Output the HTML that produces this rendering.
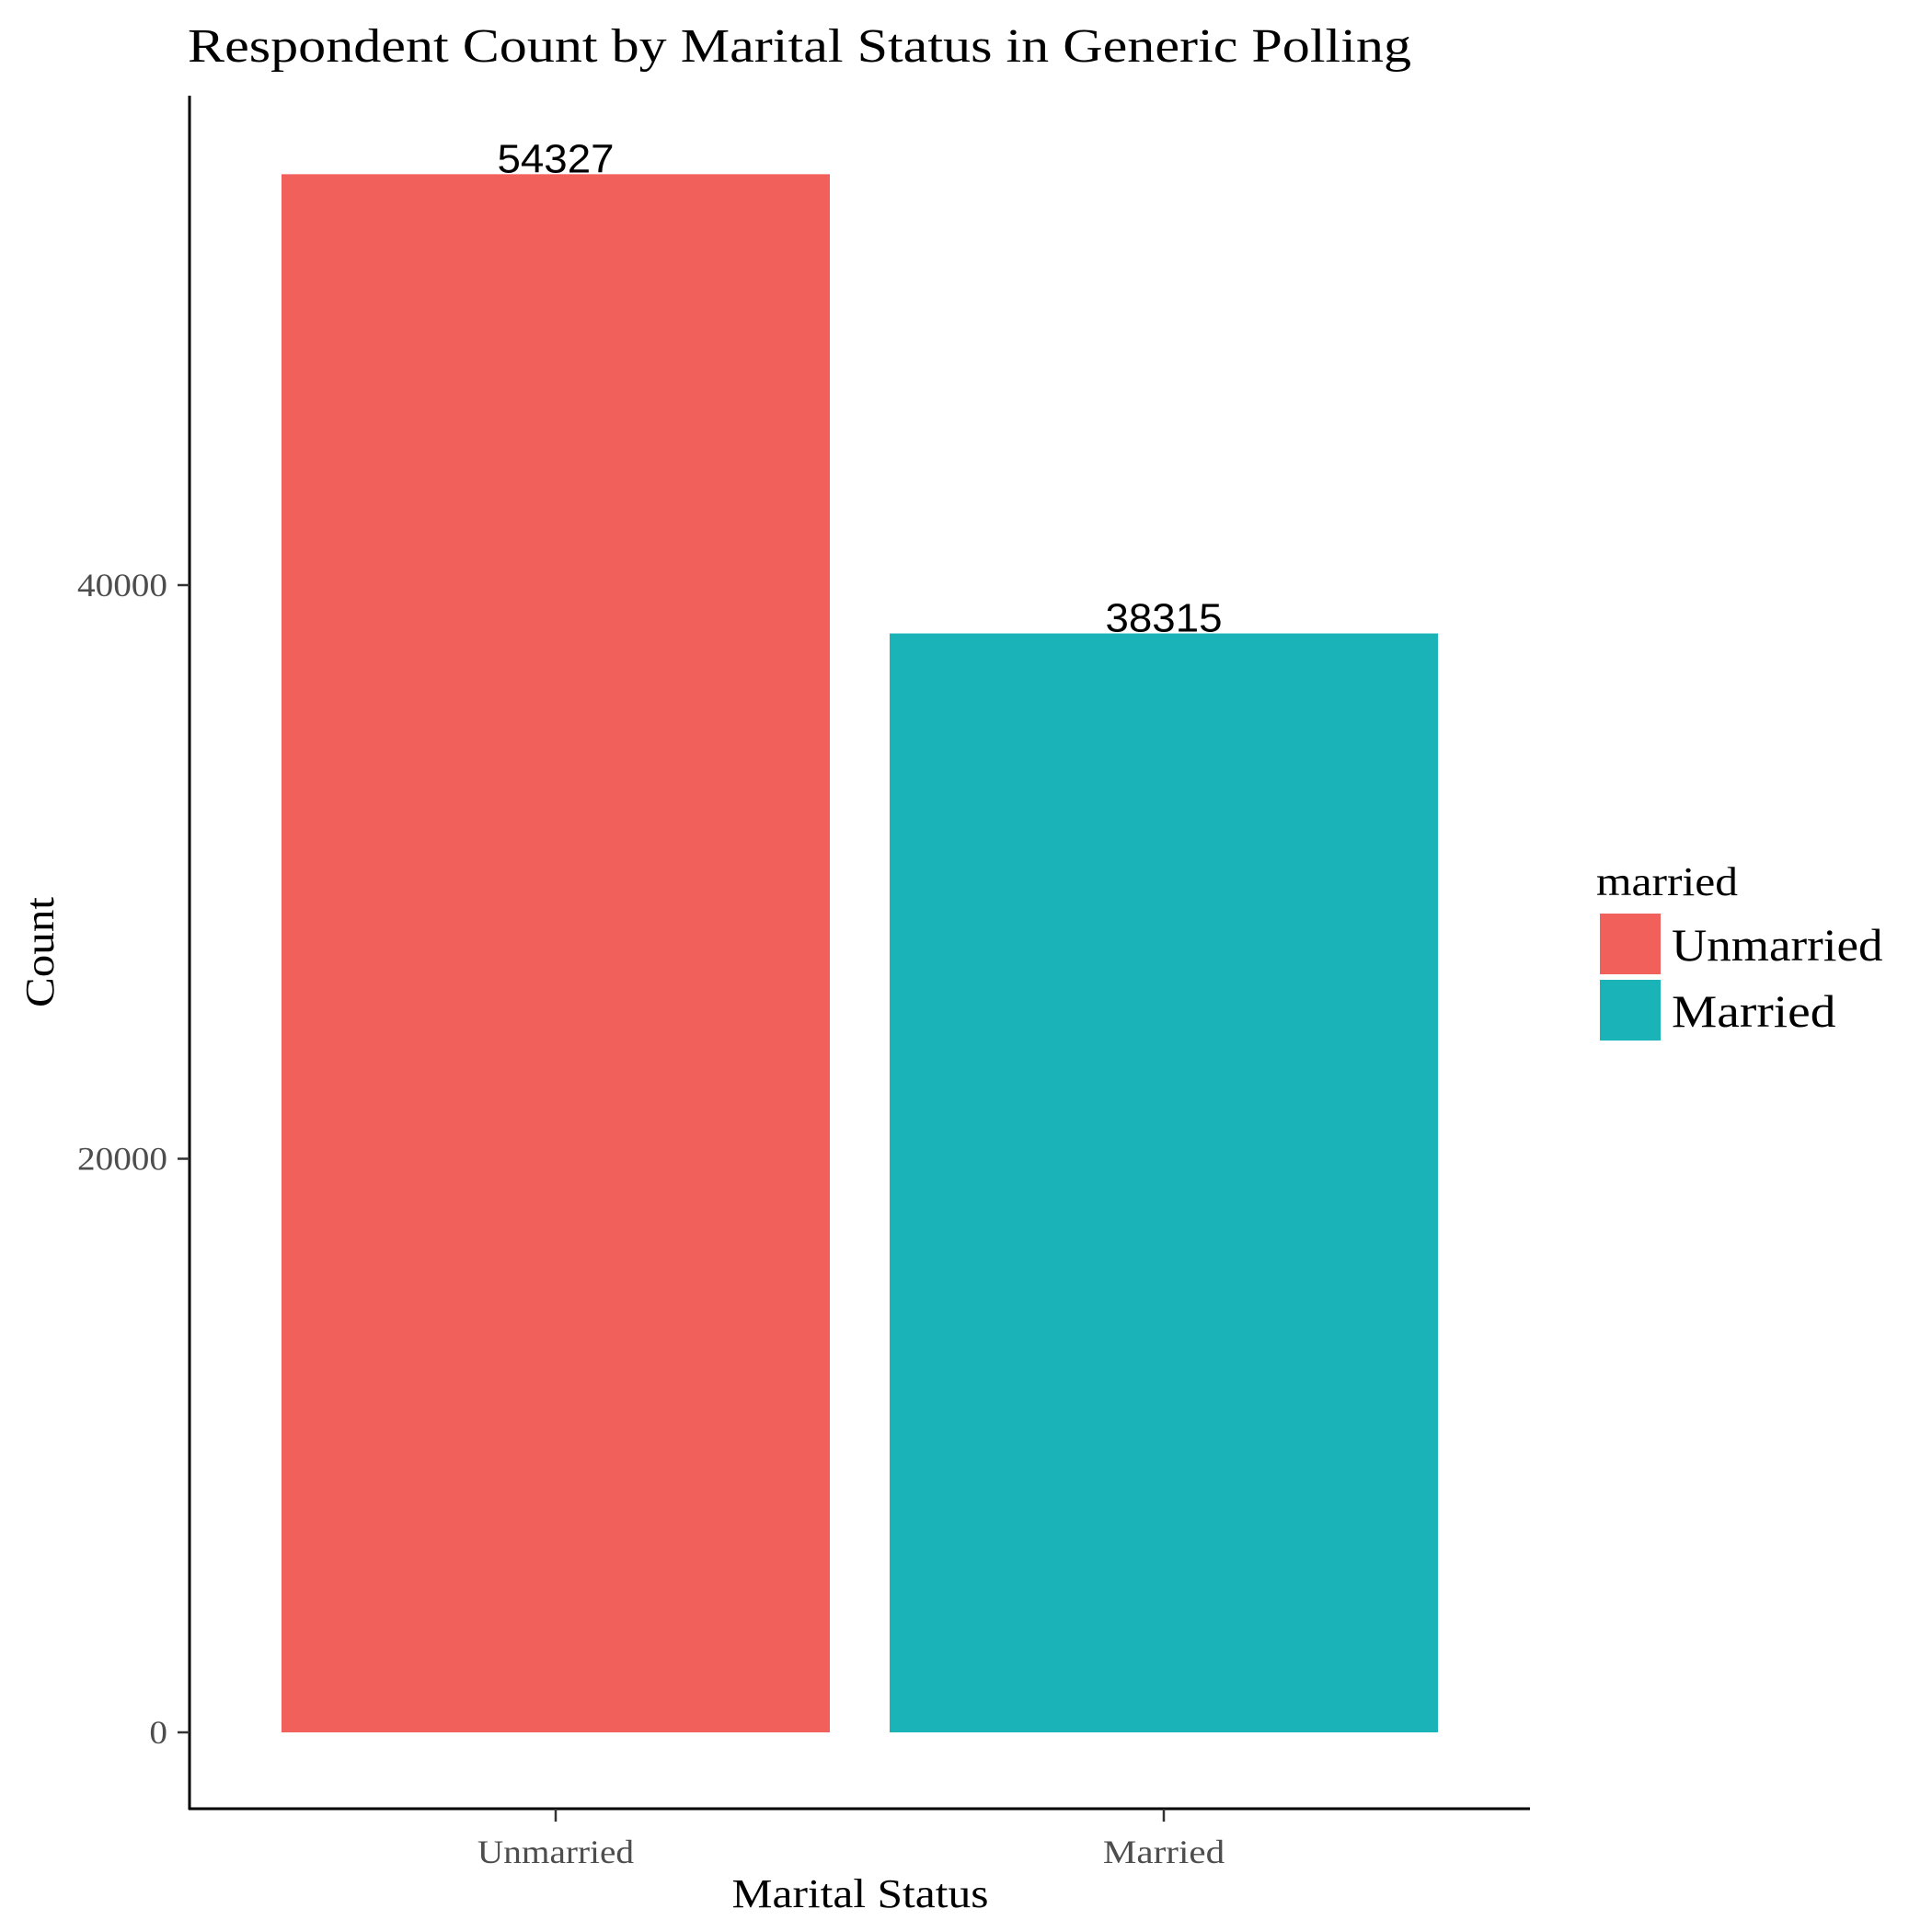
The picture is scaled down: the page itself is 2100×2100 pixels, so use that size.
<!DOCTYPE html>
<html><head><meta charset="utf-8"><style>
html,body{margin:0;padding:0;background:#fff;}
svg{display:block;}
text{font-family:"Liberation Serif",serif;}
</style></head><body>
<svg id="chart" width="2100" height="2100" viewBox="0 0 2100 2100" xmlns="http://www.w3.org/2000/svg">
<rect width="2100" height="2100" fill="#fff"/>
<text x="204" y="67" font-size="52" fill="#000" textLength="1330" lengthAdjust="spacingAndGlyphs">Respondent Count by Marital Status in Generic Polling</text>
<g id="plot"></g>
<line x1="206" y1="104" x2="206" y2="1967" stroke="#000" stroke-width="3"/>
<line x1="205" y1="1966" x2="1663" y2="1966" stroke="#000" stroke-width="3"/>
<text x="935" y="2073" font-size="44" text-anchor="middle" textLength="279" lengthAdjust="spacingAndGlyphs">Marital Status</text>
<text transform="translate(58,1035) rotate(-90)" font-size="44" text-anchor="middle" textLength="120" lengthAdjust="spacingAndGlyphs">Count</text>
<g>
<text x="1735" y="973" font-size="44" textLength="154" lengthAdjust="spacingAndGlyphs">married</text>
</g>
</svg>
<script>
const categories = ["Unmarried", "Married"];
const counts = [54327, 38315];
const colors = ["#F2605C", "#1AB3B7"];
const yTicks = [0, 20000, 40000];
const yTickLabels = ["0", "20000", "40000"];

const svgNS = "http://www.w3.org/2000/svg";
const svg = document.getElementById("chart");
const plot = document.getElementById("plot");
const y0 = 1883, pxPer = 623.5 / 20000;
function yScale(v){ return y0 - v * pxPer; }
const xCenter0 = 604, xStep = 661, barW = 596;
function xScale(i){ return xCenter0 + i * xStep; }
function mk(tag, attrs){ const e = document.createElementNS(svgNS, tag); for (const k in attrs) e.setAttribute(k, attrs[k]); return e; }
function fit(el, w){ el.setAttribute("textLength", w); el.setAttribute("lengthAdjust", "spacingAndGlyphs"); }

yTicks.forEach((t, i) => {
  const y = yScale(t);
  const tk = mk("line", {x1:193, x2:206, y1:y, y2:y, stroke:"#333", "stroke-width":2.5});
  
  
  svg.appendChild(tk);
  const lb = mk("text", {x:182, y:y + 12, "font-size":36, fill:"#4d4d4d", "text-anchor":"end"});
  lb.textContent = yTickLabels[i];
  fit(lb, yTickLabels[i].length * 19.6);
  
  
  svg.appendChild(lb);
});

categories.forEach((c, i) => {
  const cx = xScale(i);
  const top = yScale(counts[i]);
  const r = mk("rect", {x:cx - barW/2, y:top, width:barW, height:y0 - top, fill:colors[i]});
  
  
  plot.appendChild(r);
  const v = mk("text", {x:cx, y:top - 2, "font-size":44, "text-anchor":"middle", fill:"#000", style:'font-family:"Liberation Sans",sans-serif'});
  v.textContent = String(counts[i]);
  fit(v, 127);
  
  
  plot.appendChild(v);
  const tk = mk("line", {x1:cx, x2:cx, y1:1966, y2:1980, stroke:"#333", "stroke-width":2.5});
  
  
  svg.appendChild(tk);
  const lb = mk("text", {x:cx, y:2025, "font-size":36, fill:"#4d4d4d", "text-anchor":"middle"});
  lb.textContent = c;
  fit(lb, c.length * 18.9);
  
  
  svg.appendChild(lb);
  const ky = 993 + i * 72;
  const key = mk("rect", {x:1739, y:ky, width:66, height:66, fill:colors[i]});
  
  
  svg.appendChild(key);
  const lt = mk("text", {x:1817, y:ky + 51, "font-size":50, fill:"#000"});
  lt.textContent = c;
  fit(lt, c.length * 25.5);
  
  
  svg.appendChild(lt);
});
</script>
</body></html>
